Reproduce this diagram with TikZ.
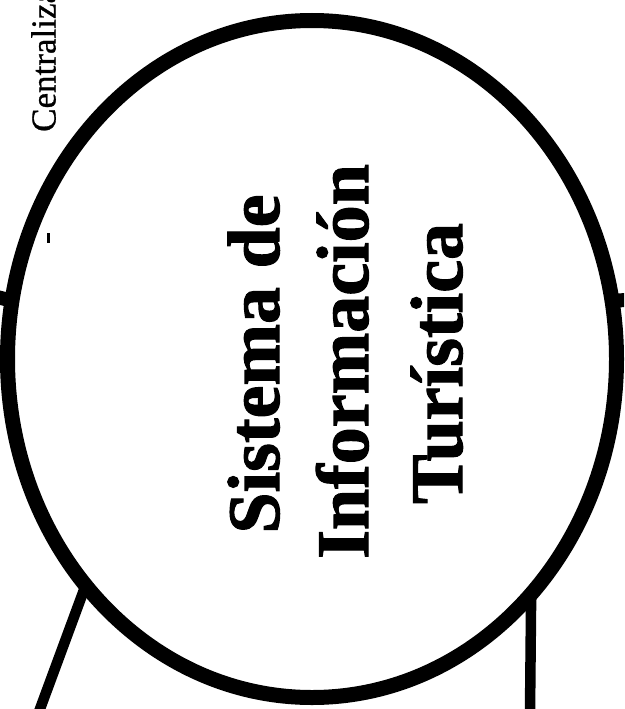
\documentclass[tikz,border=0pt]{standalone}
\usepackage{fontspec}
\setmainfont{Liberation Serif}[BoldFeatures={FakeBold=1.5}]
\newfontfamily\sidefont{Liberation Serif}[FakeBold=0.8]
\usetikzlibrary{shapes.geometric}
\begin{document}
\begin{tikzpicture}[x=1pt,y=-1pt,
  bigring/.style={draw=black, line width=15pt, ellipse, minimum width=609pt, minimum height=677pt, inner sep=0pt, outer sep=0pt, fill=white},
  title/.style={rotate=90, anchor=base, font=\bfseries\fontsize{74}{88}\selectfont, inner sep=0pt},
  side/.style={rotate=90, anchor=base west, font=\sidefont\fontsize{35}{40}\selectfont, inner sep=0pt},
  conn/.style={draw=black, line width=10.5pt},
  stub/.style={draw=black, line width=14pt},
  tick/.style={draw=black, line width=3pt}]
\useasboundingbox (0,0) rectangle (624,709);
\clip (0,0) rectangle (624,709);
\node[bigring] (sys) at (312,359) {};
\node[title] (t1) at (279,364) {Sistema de};
\node[title] (t2) at (368,361.5) {Información};
\node[title] (t3) at (462,363.5) {Turística};
\node[side] (cz) at (55.5,132) {Centraliza};
\coordinate (bl) at (38.5,713);
\coordinate (br) at (530,713);
\coordinate (le) at (-3,297);
\coordinate (re) at (627,300);
\draw[conn] (sys.225) -- (bl);
\draw[conn] (sys.313) -- (br);
\draw[stub] (sys.169) -- (le);
\draw[stub] (sys.11) -- (re);
\coordinate (h1) at (48,233);
\coordinate (h2) at (48,243);
\draw[tick] (h1) -- (h2);
\end{tikzpicture}
\end{document}
